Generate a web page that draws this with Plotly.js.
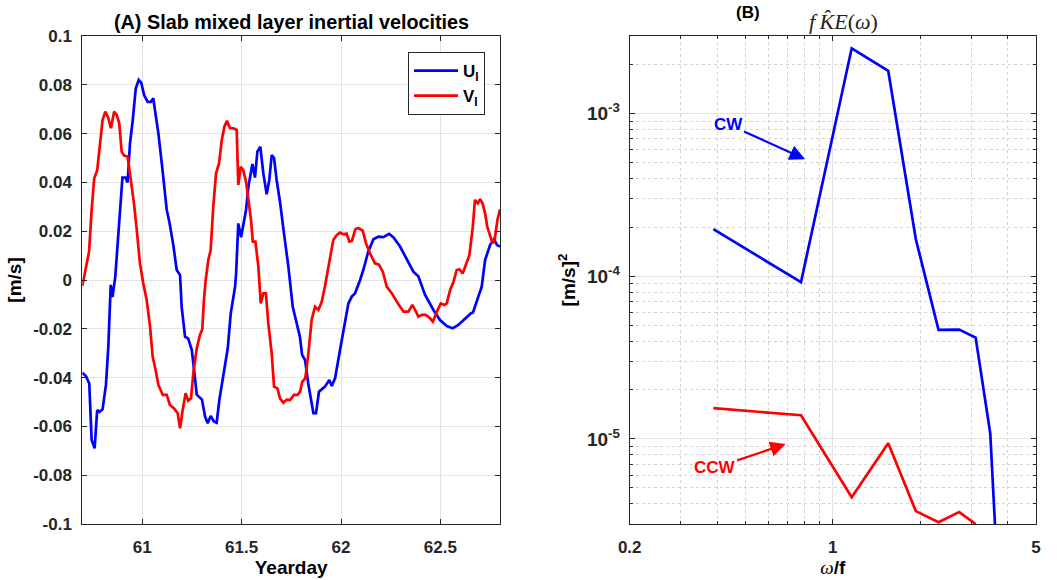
<!DOCTYPE html>
<html><head><meta charset="utf-8">
<script src="https://cdn.plot.ly/plotly-3.0.1.min.js"></script>
<style>html,body{margin:0;padding:0;background:#fff}#chart{width:1057px;height:580px}</style>
</head><body><div id="chart"></div>
<script>
// ---- Panel A: slab mixed layer inertial velocities ----
const uTime = [60.698,60.717,60.733,60.745,60.76,60.773,60.785,60.80,60.817,60.829,60.841,60.85,60.864,60.879,60.90,60.915,60.926,60.938,60.952,60.967,60.982,60.995,61.009,61.027,61.043,61.055,61.081,61.10,61.123,61.136,61.156,61.173,61.19,61.198,61.215,61.231,61.249,61.262,61.274,61.30,61.316,61.329,61.344,61.36,61.374,61.388,61.408,61.43,61.445,61.467,61.472,61.483,61.497,61.522,61.534,61.554,61.567,61.579,61.594,61.609,61.626,61.639,61.651,61.663,61.676,61.693,61.713,61.735,61.757,61.777,61.793,61.804,61.819,61.835,61.861,61.874,61.889,61.919,61.941,61.953,61.97,61.995,62.015,62.037,62.054,62.07,62.096,62.112,62.137,62.163,62.188,62.213,62.242,62.263,62.297,62.331,62.364,62.389,62.423,62.465,62.498,62.532,62.562,62.59,62.624,62.653,62.664,62.686,62.708,62.725,62.75,62.77,62.785,62.80];
const uVal = [-0.038,-0.0395,-0.0424,-0.0656,-0.069,-0.0533,-0.054,-0.053,-0.043,-0.0273,-0.002,-0.007,0.0014,0.019,0.042,0.042,0.040,0.056,0.0656,0.0785,0.082,0.0808,0.0758,0.073,0.073,0.0745,0.060,0.0464,0.0287,0.0239,0.0143,0.0041,0.002,-0.011,-0.0232,-0.024,-0.0287,-0.038,-0.047,-0.049,-0.056,-0.0587,-0.0557,-0.058,-0.0585,-0.049,-0.0396,-0.028,-0.0137,-0.0027,0.0027,0.0232,0.0175,0.0287,0.0383,0.0475,0.042,0.0526,0.0546,0.0437,0.0351,0.041,0.0512,0.050,0.041,0.032,0.019,0.0055,-0.011,-0.0184,-0.0232,-0.0307,-0.0328,-0.0424,-0.0546,-0.0546,-0.0458,-0.0437,-0.041,-0.0434,-0.0403,-0.0287,-0.0191,-0.0096,-0.0068,-0.0055,0.0,0.0041,0.0116,0.0167,0.0178,0.0176,0.0189,0.0175,0.0137,0.0082,0.0034,0.0015,-0.0061,-0.0123,-0.0164,-0.0189,-0.0198,-0.0184,-0.0157,-0.0137,-0.0133,-0.0075,-0.0027,0.0082,0.0143,0.0167,0.0143,0.0137];
const vTime = [60.698,60.717,60.732,60.745,60.758,60.773,60.787,60.80,60.814,60.829,60.842,60.858,60.871,60.884,60.896,60.908,60.926,60.942,60.958,60.972,60.988,61.005,61.022,61.039,61.052,61.065,61.081,61.103,61.123,61.139,61.16,61.178,61.19,61.203,61.218,61.231,61.245,61.257,61.274,61.29,61.302,61.31,61.319,61.332,61.344,61.357,61.371,61.386,61.40,61.413,61.426,61.441,61.458,61.475,61.483,61.495,61.508,61.522,61.534,61.547,61.556,61.569,61.584,61.596,61.609,61.622,61.634,61.651,61.663,61.68,61.693,61.71,61.727,61.743,61.763,61.78,61.794,61.805,61.82,61.835,61.852,61.869,61.886,61.903,61.919,61.931,61.945,61.961,61.978,61.995,62.015,62.028,62.042,62.055,62.072,62.087,62.109,62.126,62.146,62.171,62.191,62.21,62.23,62.256,62.281,62.314,62.339,62.359,62.373,62.389,62.406,62.427,62.448,62.462,62.482,62.502,62.52,62.532,62.549,62.566,62.582,62.596,62.612,62.629,62.646,62.663,62.674,62.688,62.70,62.712,62.725,62.736,62.75,62.763,62.773,62.787,62.80];
const vVal = [-0.0025,0.0055,0.0116,0.0287,0.0417,0.045,0.0574,0.0656,0.069,0.0663,0.0622,0.069,0.0677,0.0642,0.0526,0.051,0.0506,0.041,0.0314,0.0205,0.0068,-0.0014,-0.0082,-0.0191,-0.0314,-0.0362,-0.043,-0.0471,-0.0471,-0.0512,-0.0526,-0.0546,-0.0608,-0.0533,-0.0464,-0.0495,-0.0485,-0.038,-0.028,-0.0225,-0.0202,-0.0082,0.0,0.0082,0.0123,0.030,0.0437,0.0478,0.0574,0.0628,0.0653,0.0622,0.0622,0.0615,0.039,0.0464,0.045,0.0403,0.0328,0.0246,0.0157,0.0157,0.0055,-0.0096,-0.0055,-0.0055,-0.0178,-0.030,-0.0437,-0.0444,-0.0485,-0.0503,-0.049,-0.0492,-0.0471,-0.0471,-0.0458,-0.0417,-0.0403,-0.0307,-0.0164,-0.011,-0.0123,-0.0089,-0.0027,0.0027,0.0096,0.0164,0.0184,0.0194,0.0187,0.019,0.0157,0.016,0.0208,0.0213,0.0202,0.015,0.0109,0.0068,0.0063,0.0034,-0.0027,-0.0055,-0.0089,-0.013,-0.013,-0.0102,-0.0123,-0.015,-0.0143,-0.0143,-0.0157,-0.0171,-0.013,-0.0096,-0.0102,-0.0096,-0.0041,-0.0007,0.0041,0.0044,0.0027,0.0061,0.0102,0.0218,0.0328,0.0314,0.0331,0.0314,0.0273,0.0218,0.0187,0.015,0.0164,0.0246,0.029];
const yTickVals = [-0.1,-0.08,-0.06,-0.04,-0.02,0,0.02,0.04,0.06,0.08,0.1];
const yTickText = ['-0.1','-0.08','-0.06','-0.04','-0.02','0','0.02','0.04','0.06','0.08','0.1'];
const xTickVals = [61,61.5,62,62.5];
const xTickText = ['61','61.5','62','62.5'];

// ---- Panel B: spectra ----
const freq = [0.388,0.777,1.161,1.551,1.93,2.31,2.72,3.10,3.48,3.87];
const cwSpec = [1.95e-4,9.2e-5,2.52e-3,1.83e-3,1.69e-4,4.69e-5,4.7e-5,4.2e-5,1.08e-5,2.8e-7];
const ccwFreq = [0.388,0.777,1.161,1.551,1.93,2.31,2.72,3.10];
const ccwSpec = [1.545e-5,1.40e-5,4.38e-6,9.4e-6,3.6e-6,3.08e-6,3.55e-6,3.0e-6];
const fTickVals = [0.2,1,5];
const fTickText = ['0.2','1','5'];
const fMinorVals = [0.3,0.4,0.5,0.6,0.7,0.8,0.9,2,3,4];
const sTickVals = [1e-5,1e-4,1e-3];
const sTickText = ['10<sup>-5</sup>','10<sup>-4</sup>','10<sup>-3</sup>'];
const sMinorVals = [4e-6,5e-6,6e-6,7e-6,8e-6,9e-6,2e-5,3e-5,4e-5,5e-5,6e-5,7e-5,8e-5,9e-5,2e-4,3e-4,4e-4,5e-4,6e-4,7e-4,8e-4,9e-4,2e-3];

const FONT = 'Liberation Sans, Arial, Helvetica, sans-serif';
const SERIF = 'Liberation Serif, DejaVu Serif, serif';
const AX = '#262626';
const tickFont = {family: FONT, size: 17, color: AX, weight: 'bold'};
const titleFont = {family: FONT, size: 19, color: '#000', weight: 'bold'};

const traces = [
  {x: uTime, y: uVal, type: 'scatter', mode: 'lines', name: 'U<sub>I</sub>', line: {color: '#0000ff', width: 2.7}, xaxis: 'x', yaxis: 'y'},
  {x: vTime, y: vVal, type: 'scatter', mode: 'lines', name: 'V<sub>I</sub>', line: {color: '#ff0000', width: 2.7}, xaxis: 'x', yaxis: 'y'},
  {x: freq, y: cwSpec, type: 'scatter', mode: 'lines', name: 'CW', showlegend: false, line: {color: '#0000ff', width: 2.7}, xaxis: 'x2', yaxis: 'y2'},
  {x: ccwFreq, y: ccwSpec, type: 'scatter', mode: 'lines', name: 'CCW', showlegend: false, line: {color: '#ff0000', width: 2.7}, xaxis: 'x2', yaxis: 'y2'}
];

const common = {ticks: 'inside', ticklen: 5, tickcolor: AX, tickwidth: 1, showline: true, linecolor: AX, linewidth: 1, mirror: 'ticks', zeroline: false, tickfont: tickFont, automargin: false};

const layout = {
  width: 1057, height: 580,
  margin: {l: 0, r: 0, t: 0, b: 0},
  paper_bgcolor: '#fff', plot_bgcolor: '#fff',
  showlegend: true,
  legend: {x: 485/1057, xanchor: 'right', y: 1 - 52/580, yanchor: 'top', bgcolor: '#fff', bordercolor: AX, borderwidth: 1, itemwidth: 44, font: {family: FONT, size: 17, color: '#000', weight: 'bold'}, tracegroupgap: 0},
  xaxis: Object.assign({}, common, {domain: [82.3/1057, 500/1057], range: [60.698, 62.80], tickmode: 'array', tickvals: xTickVals, ticktext: xTickText, showgrid: true, gridcolor: '#e3e3e3', anchor: 'y', ticklabelstandoff: 8, title: {text: 'Yearday', font: titleFont, standoff: 4}}),
  yaxis: Object.assign({}, common, {domain: [1 - 524/580, 1 - 36/580], range: [-0.1, 0.1], tickmode: 'array', tickvals: yTickVals, ticktext: yTickText, showgrid: true, gridcolor: '#e3e3e3', anchor: 'x', ticklabelstandoff: 6, title: {text: '[m/s]', font: titleFont, standoff: 6}}),
  xaxis2: Object.assign({}, common, {type: 'log', domain: [629.7/1057, 1036/1057], range: [Math.log10(0.2), Math.log10(5)], tickmode: 'array', tickvals: fTickVals, ticktext: fTickText, showgrid: true, gridcolor: '#e3e3e3', anchor: 'y2', ticklabelstandoff: 8,
    minor: {tickmode: 'array', tickvals: fMinorVals, ticks: 'inside', ticklen: 3, tickcolor: AX, showgrid: true, gridcolor: '#d2d2d2', griddash: 'dot', gridwidth: 1},
    title: {text: "<span style=\"font-family:'Liberation Serif',serif;font-weight:400;font-style:italic\">ω</span>/f", font: titleFont, standoff: 4}}),
  yaxis2: Object.assign({}, common, {type: 'log', domain: [1 - 524/580, 1 - 36/580], range: [Math.log10(3e-6), Math.log10(3e-3)], tickmode: 'array', tickvals: sTickVals, ticktext: sTickText, showgrid: true, gridcolor: '#e3e3e3', anchor: 'x2', ticklabelstandoff: 5,
    tickfont: {family: FONT, size: 19, color: AX, weight: 'bold'},
    minor: {tickmode: 'array', tickvals: sMinorVals, ticks: 'inside', ticklen: 3, tickcolor: AX, showgrid: true, gridcolor: '#d2d2d2', griddash: 'dot', gridwidth: 1},
    title: {text: '[m/s]<sup>2</sup>', font: titleFont, standoff: 6}}),
  annotations: [
    {xref: 'paper', yref: 'paper', x: 291/1057, y: 1 - 22/580, text: '(A) Slab mixed layer inertial velocities', showarrow: false, font: {family: FONT, size: 19.8, color: '#000', weight: 'bold'}, xanchor: 'center', yanchor: 'middle'},
    {xref: 'paper', yref: 'paper', x: 748/1057, y: 1 - 12.5/580, text: '(B)', showarrow: false, font: {family: FONT, size: 17, color: '#000', weight: 'bold'}, xanchor: 'center', yanchor: 'middle'},
    {xref: 'paper', yref: 'paper', x: 843/1057, y: 1 - 21/580, text: '<i>f\u2009K\u0302E</i>(<i>ω</i>)', showarrow: false, font: {family: SERIF, size: 22, color: '#222'}, xanchor: 'center', yanchor: 'middle'},
    {xref: 'x2', yref: 'y2', x: Math.log10(0.802), y: Math.log10(5.25e-4), ax: -77, ay: -35, text: 'CW', showarrow: true, arrowhead: 2, arrowsize: 1.4, arrowwidth: 2.2, arrowcolor: '#0000ff', font: {family: FONT, size: 17, color: '#0000ff', weight: 'bold'}},
    {xref: 'x2', yref: 'y2', x: Math.log10(0.688), y: -5.031, ax: -71, ay: 24, text: 'CCW', showarrow: true, arrowhead: 2, arrowsize: 1.4, arrowwidth: 2.2, arrowcolor: '#ff0000', font: {family: FONT, size: 17, color: '#ff0000', weight: 'bold'}}
  ]
};

Plotly.newPlot('chart', traces, layout, {displayModeBar: false, responsive: false});
</script></body></html>
